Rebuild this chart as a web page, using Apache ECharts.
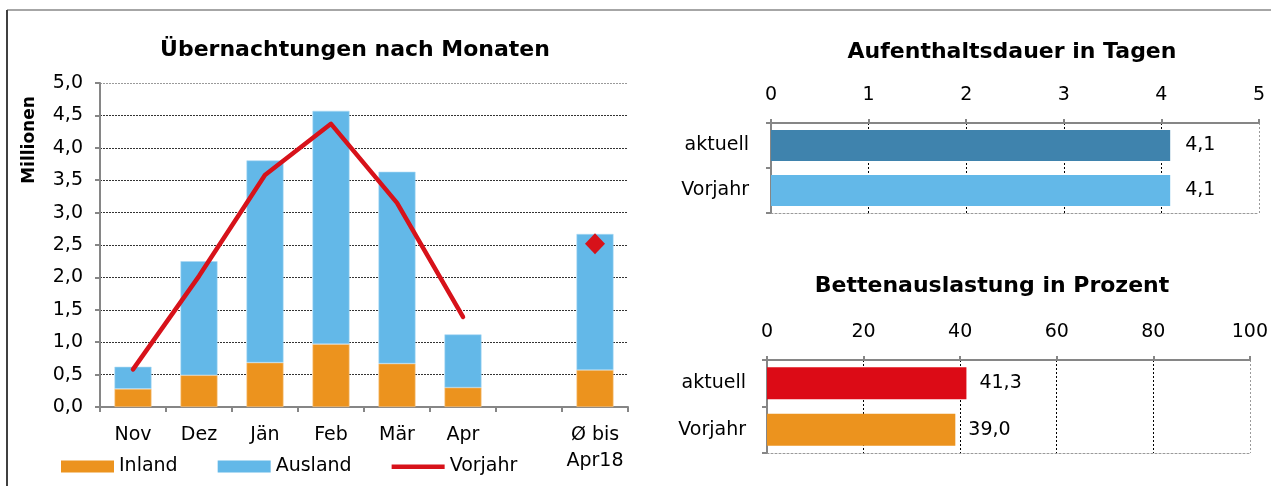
<!DOCTYPE html>
<html>
<head>
<meta charset="utf-8">
<script src="https://cdn.jsdelivr.net/npm/echarts@6/dist/echarts.min.js"></script>
<style>
html,body{margin:0;padding:0;background:#fff;}
#c{width:1271px;height:486px;}
</style>
</head>
<body>
<div id="c"></div>
<script>
// ---- data ----
const months = ['Nov', 'Dez', 'Jän', 'Feb', 'Mär', 'Apr', '', 'Ø bis\nApr18'];
const inland = [0.28, 0.49, 0.685, 0.97, 0.67, 0.30, null, 0.57];
const ausland = [0.34, 1.76, 3.12, 3.60, 2.96, 0.82, null, 2.10];
const vorjahr = [0.58, 2.02, 3.58, 4.37, 3.15, 1.39, null, null];
const vorjahrAvg = [null, null, null, null, null, null, null, 2.52];
const rows = ['aktuell', 'Vorjahr'];
const dauer = [4.09, 4.09];
const auslastung = [41.3, 39.0];

const FONT = 'DejaVu Sans';
const fmt = v => Number(v).toFixed(1).replace('.', ',');
const axisGray = '#868686';
const RED = '#d7121a';

const chart = echarts.init(document.getElementById('c'), null, {renderer: 'canvas'});

const yGridColors = ['#333','#333','#333','#333','#333','#333','#333','#333','#333','#333','#9a9a9a'];
const lineIcon = 'path://M0,0L0.01,0L0.01,0.01Z M0,4L53,4L53,8.5L0,8.5Z M0,12L0.01,12L0.01,11.99Z';

const option = {
  backgroundColor: '#fff',
  animation: false,
  textStyle: {fontFamily: FONT, color: '#000'},
  title: [
    {text: 'Übernachtungen nach Monaten', left: 350, top: 34, textAlign: 'center',
     textStyle: {fontFamily: FONT, fontSize: 22, fontWeight: 'bold', color: '#000'}},
    {text: 'Aufenthaltsdauer in Tagen', left: 1007, top: 36, textAlign: 'center',
     textStyle: {fontFamily: FONT, fontSize: 22, fontWeight: 'bold', color: '#000'}},
    {text: 'Bettenauslastung in Prozent', left: 987, top: 270, textAlign: 'center',
     textStyle: {fontFamily: FONT, fontSize: 22, fontWeight: 'bold', color: '#000'}}
  ],
  graphic: [
    {type: 'line', shape: {x1: 7, y1: 10, x2: 1271, y2: 10}, style: {stroke: '#a6a6a6', lineWidth: 2}},
    {type: 'line', shape: {x1: 7, y1: 10, x2: 7, y2: 486}, style: {stroke: '#404040', lineWidth: 2}},
    {type: 'text', x: 30, y: 140, rotation: Math.PI / 2,
     style: {text: 'Millionen', font: 'bold 17px "DejaVu Sans"', fill: '#000', textAlign: 'center', textVerticalAlign: 'middle'}}
  ],
  legend: {
    data: [
      {name: 'Inland', icon: 'rect', itemStyle: {borderWidth: 0}},
      {name: 'Ausland', icon: 'rect', itemStyle: {borderWidth: 0}},
      {name: 'Vorjahr', icon: lineIcon, itemStyle: {color: RED, borderWidth: 0}}
    ],
    left: 56, top: 452,
    itemWidth: 53, itemHeight: 12, itemGap: 40,
    itemStyle: {borderWidth: 0},
    textStyle: {fontFamily: FONT, fontSize: 19, color: '#000'}
  },
  grid: [
    {left: 100, right: 643, top: 83, height: 324},
    {left: 771, right: 12, top: 123, height: 90},
    {left: 767, right: 12, top: 360, height: 93}
  ],
  xAxis: [
    {type: 'category', gridIndex: 0, data: months,
     axisLine: {lineStyle: {color: axisGray, width: 2}},
     axisTick: {show: true, length: 5, lineStyle: {color: axisGray, width: 2}},
     axisLabel: {fontFamily: FONT, fontSize: 19, color: '#000', margin: 15, lineHeight: 26, interval: 0}},
    {type: 'value', gridIndex: 1, position: 'top', min: 0, max: 5, interval: 1,
     axisLine: {show: true, lineStyle: {color: axisGray, width: 2}},
     axisTick: {show: true, length: 4, lineStyle: {color: axisGray, width: 2}},
     axisLabel: {fontFamily: FONT, fontSize: 19, color: '#000', margin: 18},
     splitLine: {show: true, lineStyle: {color: ['#000','#000','#000','#000','#000','#9a9a9a'], type: [2, 2], width: 1}}},
    {type: 'value', gridIndex: 2, position: 'top', min: 0, max: 100, interval: 20,
     axisLine: {show: true, lineStyle: {color: axisGray, width: 2}},
     axisTick: {show: true, length: 4, lineStyle: {color: axisGray, width: 2}},
     axisLabel: {fontFamily: FONT, fontSize: 19, color: '#000', margin: 18},
     splitLine: {show: true, lineStyle: {color: ['#000','#000','#000','#000','#000','#9a9a9a'], type: [2, 2], width: 1}}},
    {type: 'value', gridIndex: 1, position: 'bottom', min: 0, max: 5,
     axisLine: {show: true, lineStyle: {color: '#9a9a9a', width: 1, type: [2, 2]}},
     axisTick: {show: false}, axisLabel: {show: false}, splitLine: {show: false}},
    {type: 'value', gridIndex: 2, position: 'bottom', min: 0, max: 100,
     axisLine: {show: true, lineStyle: {color: '#9a9a9a', width: 1, type: [2, 2]}},
     axisTick: {show: false}, axisLabel: {show: false}, splitLine: {show: false}}
  ],
  yAxis: [
    {type: 'value', gridIndex: 0, min: 0, max: 5, interval: 0.5,
     axisLine: {show: true, lineStyle: {color: axisGray, width: 2}},
     axisTick: {show: true, length: 5, lineStyle: {color: axisGray, width: 2}},
     axisLabel: {fontFamily: FONT, fontSize: 19, color: '#000', margin: 17, formatter: fmt},
     splitLine: {show: true, lineStyle: {color: yGridColors, type: [2, 1], width: 1}}},
    {type: 'category', gridIndex: 1, data: rows, inverse: true,
     axisLine: {lineStyle: {color: axisGray, width: 2}},
     axisTick: {show: true, length: 5, lineStyle: {color: axisGray, width: 2}},
     axisLabel: {fontFamily: FONT, fontSize: 19, color: '#000', margin: 22}},
    {type: 'category', gridIndex: 2, data: rows, inverse: true,
     axisLine: {lineStyle: {color: axisGray, width: 2}},
     axisTick: {show: true, length: 5, lineStyle: {color: axisGray, width: 2}},
     axisLabel: {fontFamily: FONT, fontSize: 19, color: '#000', margin: 21}}
  ],
  series: [
    {name: 'Inland', type: 'bar', stack: 'm', xAxisIndex: 0, yAxisIndex: 0, data: inland,
     barWidth: 37, itemStyle: {color: '#ec931e', borderColor: '#f6c98e', borderWidth: 0.6}},
    {name: 'Ausland', type: 'bar', stack: 'm', xAxisIndex: 0, yAxisIndex: 0, data: ausland,
     barWidth: 37, itemStyle: {color: '#63b8e8', borderColor: '#a9d8f3', borderWidth: 0.6}},
    {name: 'Vorjahr', type: 'line', xAxisIndex: 0, yAxisIndex: 0, data: vorjahr,
     symbol: 'none', connectNulls: false,
     lineStyle: {color: RED, width: 4.5, cap: 'round', join: 'round'},
     itemStyle: {color: RED}},
    {name: 'VorjahrAvg', type: 'scatter', xAxisIndex: 0, yAxisIndex: 0, data: vorjahrAvg,
     symbol: 'diamond', symbolSize: [20, 21], itemStyle: {color: RED, opacity: 1}, z: 5},
    {name: 'Dauer', type: 'bar', xAxisIndex: 1, yAxisIndex: 1, barWidth: 31,
     data: dauer.map((v, i) => ({value: v, itemStyle: {color: i === 0 ? '#3f83ad' : '#63b8e8'}})),
     label: {show: true, position: 'right', distance: 15, fontFamily: FONT, fontSize: 19, color: '#000',
             formatter: p => fmt(p.value)}},
    {name: 'Auslastung', type: 'bar', xAxisIndex: 2, yAxisIndex: 2, barWidth: 32,
     data: auslastung.map((v, i) => ({value: v, itemStyle: {color: i === 0 ? '#dc0b16' : '#ec931e'}})),
     label: {show: true, position: 'right', distance: 13, fontFamily: FONT, fontSize: 19, color: '#000',
             formatter: p => fmt(p.value)}}
  ]
};
chart.setOption(option);
</script>
</body>
</html>
